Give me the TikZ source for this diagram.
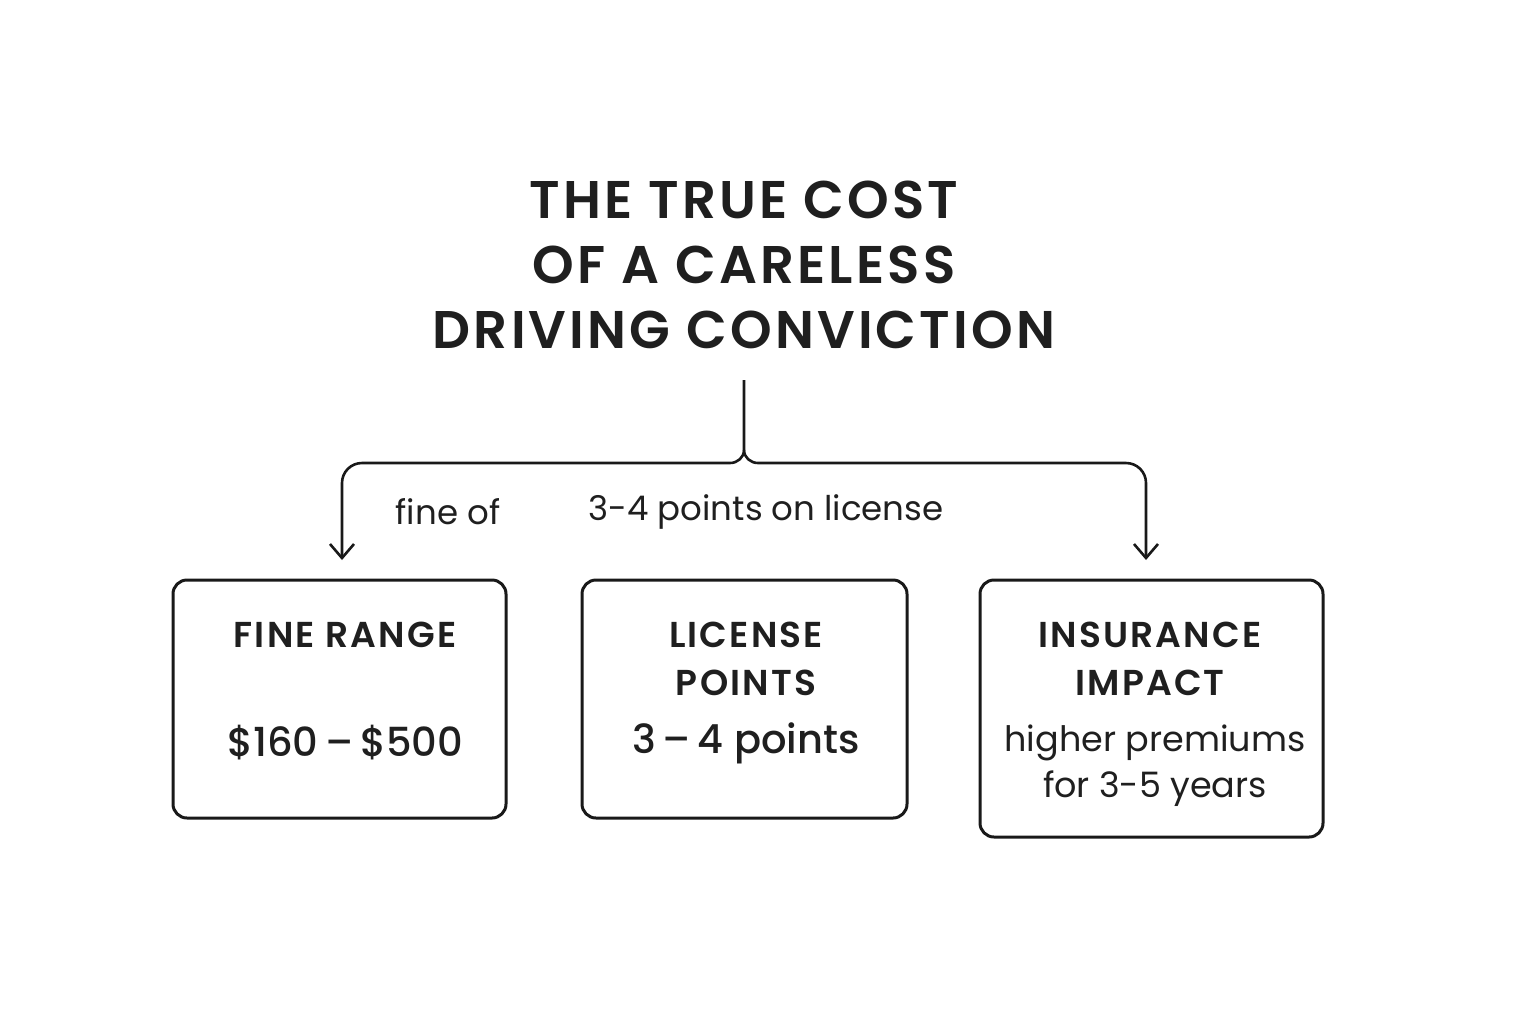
\documentclass[tikz,border=0pt]{standalone}
\usepackage{fontspec}
\usetikzlibrary{arrows.meta}
\setmainfont{Poppins}
\newfontfamily\semib[LetterSpace=6]{Poppins SemiBold}
\newfontfamily\medf{Poppins Medium}
\begin{document}
\begin{tikzpicture}[x=0.5pt,y=-0.5pt,
  box/.style={draw=black!90,line width=1.5pt,rounded corners=7pt},
  conn/.style={draw=black!90,line width=1.3pt},
  head/.style={font=\fontsize{18}{24}\semib,align=center,text=black!88},
  val/.style={font=\fontsize{20}{25}\medf,align=center,text=black!88},
  lab/.style={font=\fontsize{17}{20}\selectfont,text=black!88},
  tip/.style={-{Straight Barb[length=7pt,width=12pt,line width=1.3pt]}}]
\useasboundingbox (0,0) rectangle (1536,1024);
\node[font=\fontsize{26.5}{32.5}\semib,align=center,text=black!88] (title) at (744,265) {THE TRUE COST\\OF A CARELESS\\DRIVING CONVICTION};
\draw[box] (173,580) rectangle (506,818);
\draw[box] (582,580) rectangle (907,818);
\draw[box] (980,580) rectangle (1323,837);
\node[head] (h1) at (345,635) {FINE RANGE};
\node[val] (v1) at (345,743) {\$160\,–\,\$500};
\node[head] (h2) at (746,659) {LICENSE\\POINTS};
\node[val] (v2) at (746,743) {3\,–\,4 points};
\node[head] (h3) at (1150,659) {INSURANCE\\IMPACT};
\node[val,font=\fontsize{17.5}{23}\selectfont] (v3) at (1155,766) {higher premiums\\for 3-5 years};
\coordinate (top) at (744,380);
\coordinate (la) at (342,560);
\coordinate (ra) at (1146,560);
\draw[conn,tip] (top) -- (744,450) to[out=270,in=0] (730,463) -- (362,463) to[out=180,in=90] (342,483) -- (la);
\draw[conn,tip] (744,450) to[out=270,in=180] (758,463) -- (1126,463) to[out=0,in=90] (1146,483) -- (ra);
\node[lab] (l1) at (448,512) {fine of};
\node[lab] (l2) at (766,512) {3-4 points on license};
\end{tikzpicture}
\end{document}
